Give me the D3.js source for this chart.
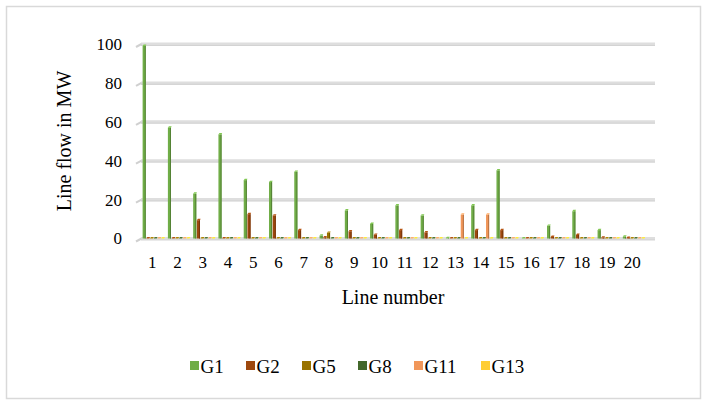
<!DOCTYPE html>
<html>
<head>
<meta charset="utf-8">
<script src="https://cdn.jsdelivr.net/npm/d3@7"></script>
<style>
  html, body { margin: 0; padding: 0; background: #fff; }
  svg text { font-family: "Liberation Serif", "Tinos", "Times New Roman", Times, "DejaVu Serif", serif; fill: #000; }
</style>
</head>
<body>
<svg id="chart" width="707" height="403"></svg>
<script>
// Line flows per generator, lines 1..20 (MW)
const categories = ["1","2","3","4","5","6","7","8","9","10","11","12","13","14","15","16","17","18","19","20"];
const seriesNames = ["G1","G2","G5","G8","G11","G13"];
const G1  = [99, 57, 23, 53.5, 30, 29, 34.3, 1.5, 14.4, 7.5, 17, 11.8, 0.2, 17, 35, 0, 6.5, 14, 4.3, 0.9];
const G2  = [0, 0, 9.4, 0, 12.5, 11.8, 4.3, 0.6, 3.7, 1.9, 4.3, 3.1, 0, 4.3, 4.3, 0, 0.8, 1.8, 0.5, 0.3];
const G5  = [0, 0, 0, 0, 0, 0, 0, 2.9, 0, 0, 0, 0, 0, 0, 0, 0, 0, 0, 0, 0];
const G8  = [0, 0, 0, 0, 0, 0, 0, 0, 0, 0, 0, 0, 0, 0, 0, 0, 0, 0, 0, 0];
const G11 = [0, 0, 0, 0, 0, 0, 0, 0, 0, 0, 0, 0, 12.3, 12.3, 0, 0, 0, 0, 0, 0];
const G13 = [0, 0, 0, 0, 0, 0, 0, 0, 0, 0, 0, 0, 0, 0, 0, 0, 0, 0, 0, 0];
const yTicks = [0, 20, 40, 60, 80, 100];

const seriesValues = [G1, G2, G5, G8, G11, G13];
const colors = ["#70AD47", "#9E480E", "#997300", "#43682B", "#F1975A", "#FFCD33"];
const serif = '"Liberation Serif", "Tinos", "Times New Roman", Times, "DejaVu Serif", serif';

const svg = d3.select("#chart");

// chart frame
svg.append("rect")
  .attr("x", 6.5).attr("y", 6.5).attr("width", 694).attr("height", 392)
  .attr("fill", "#fff").attr("stroke", "#d9d9d9").attr("stroke-width", 1.5);

const x = d3.scaleBand().domain(categories).range([139.5, 645]).paddingInner(0.12).paddingOuter(0.06);
const xs = d3.scaleBand().domain(seriesNames).range([0, x.bandwidth()]).padding(0);
const y = d3.scaleLinear().domain([0, 100]).range([238.5, 44]);

// gridlines (back wall) with short floor edge at the left
const grid = svg.append("g");
yTicks.forEach(t => {
  const gy = y(t);
  grid.append("line")
    .attr("x1", 141).attr("x2", 655).attr("y1", gy).attr("y2", gy)
    .attr("stroke", "#dedede").attr("stroke-width", 3);
  grid.append("line")
    .attr("x1", 141).attr("x2", 655).attr("y1", gy + 1.5).attr("y2", gy + 1.5)
    .attr("stroke", "#cccccc").attr("stroke-width", 0.8);
  grid.append("line")
    .attr("x1", 136).attr("x2", 141.5).attr("y1", gy + 3).attr("y2", gy)
    .attr("stroke", "#d0d0d0").attr("stroke-width", 2);
});

// y tick labels
const yAxis = d3.axisLeft(y).tickValues(yTicks).tickSize(0).tickPadding(0);
const yg = svg.append("g").attr("transform", "translate(122,0)").call(yAxis);
yg.attr("font-family", null);
yg.select(".domain").remove();
yg.selectAll("text").attr("font-size", 17).style("font-family", serif).attr("fill", "#000");

// x tick labels
const xAxis = d3.axisBottom(x).tickSize(0).tickPadding(0);
const xg = svg.append("g").attr("transform", "translate(0,256)").call(xAxis);
xg.attr("font-family", null);
xg.select(".domain").remove();
xg.selectAll("text").attr("font-size", 17).style("font-family", serif).attr("fill", "#000");

// bars, drawn as shallow 3D columns (front face, side face, top cap)
const rows = [];
seriesNames.forEach((s, si) => {
  categories.forEach((c, ci) => rows.push({ s, si, c, v: seriesValues[si][ci] }));
});

const bw = xs.bandwidth();
const bars = svg.append("g");
rows.forEach(d => {
  const x0 = x(d.c) + xs(d.s) + 1.6;
  const top = y(d.v);
  const base = y(0);
  const col = d3.color(colors[d.si]);
  const w = bw - 0.6;
  const h = Math.max(0, base - top);
  bars.append("rect")
    .attr("x", x0).attr("y", top).attr("width", w).attr("height", h)
    .attr("fill", col);
  bars.append("rect")
    .attr("x", x0 + w - 1).attr("y", top).attr("width", 1).attr("height", h)
    .attr("fill", col.darker(0.8));
  bars.append("path")
    .attr("d", `M${x0},${top} L${x0 + 1},${top - 1.4} L${x0 + w + 0.6},${top - 1.4} L${x0 + w},${top} Z`)
    .attr("fill", col.brighter(0.4));
});

// axis titles
svg.append("text")
  .attr("x", 393).attr("y", 304)
  .attr("text-anchor", "middle").attr("font-size", 20)
  .style("font-family", serif)
  .text("Line number");

svg.append("text")
  .attr("transform", "translate(70.5,141) rotate(-90)")
  .attr("text-anchor", "middle").attr("font-size", 20)
  .style("font-family", serif)
  .text("Line flow in MW");

// legend
const legendX = [190, 246, 302, 358, 414, 481];
const lg = svg.append("g");
seriesNames.forEach((s, i) => {
  lg.append("rect")
    .attr("x", legendX[i]).attr("y", 361).attr("width", 9).attr("height", 9)
    .attr("fill", colors[i]);
  lg.append("text")
    .attr("x", legendX[i] + 10.5).attr("y", 373)
    .attr("font-size", 19)
    .style("font-family", serif)
    .text(s);
});
</script>
</body>
</html>
